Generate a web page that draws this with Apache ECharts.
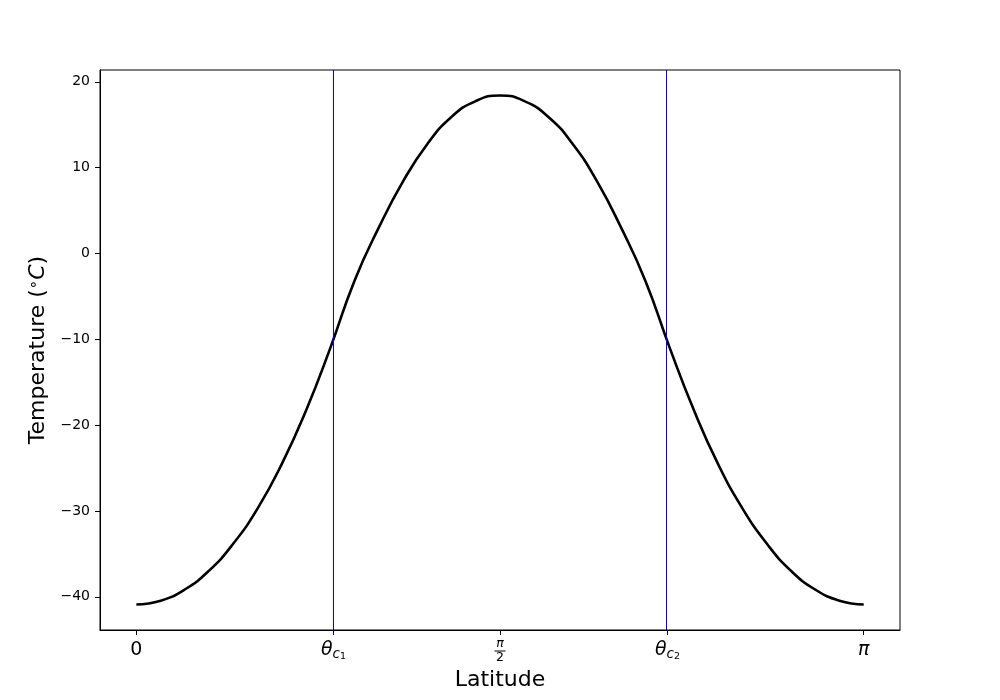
<!DOCTYPE html>
<html>
<head>
<meta charset="utf-8">
<script src="https://cdn.jsdelivr.net/npm/echarts@6/dist/echarts.min.js"></script>
<style>
  html, body { margin: 0; padding: 0; background: #fff; }
  #chart { width: 1000px; height: 700px; }
</style>
</head>
<body>
<div id="chart"></div>
<script>
// Colatitude (radians, 0 = pole, pi/2 = equator, pi = other pole)
const latitude = [
  0.000, 0.105, 0.209, 0.314, 0.419, 0.524, 0.628, 0.733, 0.838,
  0.942, 1.047, 1.152, 1.257, 1.361, 1.466, 1.571, 1.676, 1.780, 1.885,
  1.990, 2.094, 2.199, 2.304, 2.409, 2.513, 2.618, 2.723, 2.827,
  2.932, 3.037, 3.142
];
// Temperature (°C)
const temperature = [
  -40.9, -40.45, -39.15, -36.95, -33.8, -29.7, -24.55, -18.3, -11.0,
  -3.2, 3.0, 8.4, 12.75, 15.9, 17.75, 18.4, 17.75, 15.9, 12.75,
  8.4, 3.0, -3.2, -11.0, -18.3, -24.55, -29.7, -33.8, -36.95,
  -39.15, -40.45, -40.9
];
// Ice-line latitudes (vertical lines)
const criticalLatitudes = [0.8516, 2.2944];
// Tick positions and labels
const xTickValues = [0, 0.8516, 1.5708, 2.2944, 3.1416];
const xTickLabels = [
  '{m|0}',
  '{th|θ}{c|c}{s|1}',
  '{fn|π}\n{bar| }\n{fd|2}',
  '{th|θ}{c|c}{s|2}',
  '{pi|π}'
];
const yTickValues = [-40, -30, -20, -10, 0, 10, 20];

const seriesData = latitude.map((t, i) => [t, temperature[i]]);

const FONT = 'DejaVu Sans';
const BLUE = '#0000ff';
const chart = echarts.init(document.getElementById('chart'), null, { renderer: 'canvas' });

chart.setOption({
  animation: false,
  backgroundColor: '#ffffff',
  grid: {
    left: 100, right: 100, top: 70, bottom: 70,
    show: true, borderColor: '#000', borderWidth: 1, backgroundColor: 'transparent'
  },
  xAxis: {
    type: 'value',
    min: -0.05 * Math.PI,
    max: 1.05 * Math.PI,
    name: 'Latitude',
    nameLocation: 'middle',
    nameGap: 36,
    nameTextStyle: { fontFamily: FONT, fontSize: 22, color: '#000' },
    axisLine: { show: true, onZero: false, lineStyle: { color: '#000', width: 1 } },
    axisTick: { show: true, length: 5, customValues: xTickValues, lineStyle: { color: '#000', width: 1 } },
    splitLine: { show: false },
    axisLabel: {
      customValues: xTickValues,
      margin: 9,
      verticalAlign: 'top',
      color: '#000',
      fontFamily: FONT,
      formatter: function (v) {
        let best = 0, bd = Infinity;
        xTickValues.forEach((t, i) => { const d = Math.abs(t - v); if (d < bd) { bd = d; best = i; } });
        return xTickLabels[best];
      },
      rich: {
        m: { fontFamily: FONT, fontSize: 19, color: '#000', lineHeight: 22, fontStyle: 'normal' },
        pi: { fontFamily: FONT, fontSize: 19, color: '#000', lineHeight: 22, fontStyle: 'italic' },
        th: { fontFamily: FONT, fontSize: 19, fontStyle: 'italic', color: '#000', lineHeight: 22 },
        c: { fontFamily: FONT, fontSize: 13.5, fontStyle: 'italic', color: '#000', padding: [7, 0, 0, 0] },
        s: { fontFamily: FONT, fontSize: 9.5, color: '#000', padding: [13, 0, 0, 0] },
        fn: { fontFamily: FONT, fontSize: 12.5, fontStyle: 'italic', color: '#000', lineHeight: 10, align: 'center' },
        bar: { width: 11, height: 1, lineHeight: 4, backgroundColor: '#000', align: 'center', fontSize: 1 },
        fd: { fontFamily: FONT, fontSize: 12.5, color: '#000', lineHeight: 9, align: 'center' }
      }
    }
  },
  yAxis: {
    type: 'value',
    min: -43.87,
    max: 21.37,
    name: 'Temperature ({sup|∘}{it|C})',
    nameLocation: 'middle',
    nameGap: 41,
    nameTextStyle: {
      fontFamily: FONT, fontSize: 22, color: '#000',
      rich: {
        sup: { fontFamily: FONT, fontSize: 15, color: '#000', padding: [0, 0, 9, 0] },
        it: { fontFamily: FONT, fontSize: 22, fontStyle: 'italic', color: '#000' }
      }
    },
    axisLine: { show: true, onZero: false, lineStyle: { color: '#000', width: 1 } },
    axisTick: { show: true, length: 5, customValues: yTickValues, lineStyle: { color: '#000', width: 1 } },
    splitLine: { show: false },
    axisLabel: {
      customValues: yTickValues,
      margin: 10,
      color: '#000',
      fontFamily: FONT,
      fontSize: 14,
      formatter: function (v) { return String(v).replace('-', '\u2212'); }
    }
  },
  series: [{
    type: 'line',
    data: seriesData,
    smooth: 0.5,
    showSymbol: false,
    symbol: 'none',
    z: 3,
    lineStyle: { color: '#000', width: 2.6 },
    markLine: {
      silent: true,
      symbol: ['none', 'none'],
      label: { show: false },
      lineStyle: { color: BLUE, width: 1, type: 'solid', opacity: 1 },
      emphasis: { disabled: true },
      data: criticalLatitudes.map(v => ({
        xAxis: v,
        lineStyle: { color: BLUE, width: 1, type: 'solid', opacity: 1 }
      }))
    }
  }]
});
</script>
</body>
</html>
